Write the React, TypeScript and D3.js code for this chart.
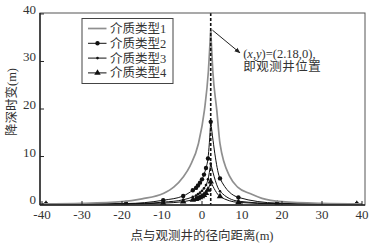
import React, { useEffect, useRef } from "react"
import * as d3 from "d3"

// axis ticks
const xTicks = [-40, -30, -20, -10, 0, 10, 20, 30, 40]
const yTicks = [0, 10, 20, 30, 40]
const wellX = 2.18

// 介质类型1 (gray, no markers)
const type1X = [-40, -30, -20, -15, -9.7, -7, -4.7, -3, -0.9, 0.6, 1.6, 2.18, 2.7, 3.7, 4.5, 7, 9, 12, 15, 20, 30, 40]
const type1Y = [0.05, 0.15, 0.5, 1.1, 2.2, 3.6, 5.7, 8, 12.7, 19.7, 28, 36.5, 28, 19.7, 12.7, 5.7, 3.5, 2.2, 1.2, 0.5, 0.15, 0.05]

// 介质类型2-4 (black, with markers)
const sampleX = [-39, -19, -9.7, -4.7, -2.3, -1.5, -1, -0.5, 0, 0.5, 1, 1.5, 2.18, 4.5, 9.1, 18.8, 38.7]
const type2Y = [0, 0.1, 0.8, 1.7, 2.9, 3.4, 3.9, 4.5, 5.2, 6.2, 7.6, 9.6, 17.3, 5.4, 1.4, 0.2, 0]
const type3Y = [0, 0.05, 0.4, 0.9, 1.5, 1.8, 2.1, 2.4, 2.8, 3.3, 4.0, 5.2, 8.5, 2.7, 0.6, 0.1, 0]
const type4Y = [0, 0.03, 0.2, 0.5, 0.9, 1.05, 1.2, 1.4, 1.6, 1.9, 2.3, 3.0, 4.7, 1.6, 0.35, 0.05, 0]

const legendLabels = ["介质类型1", "介质类型2", "介质类型3", "介质类型4"]

const serif = "'Liberation Serif', 'DejaVu Serif', 'Noto Sans CJK SC', serif"

export default function App() {
  const ref = useRef<SVGSVGElement>(null)

  useEffect(() => {
    const svg = d3.select(ref.current)
    svg.selectAll("*").remove()

    const left = 40, right = 365, top = 13, bottom = 205
    const x = d3.scaleLinear().domain([-40.5, 40.75]).range([left, right])
    const y = d3.scaleLinear().domain([-0.2, 40.2]).range([bottom, top])

    svg.append("defs").append("clipPath").attr("id", "plot")
      .append("rect").attr("x", left).attr("y", top)
      .attr("width", right - left).attr("height", bottom - top)
    svg.select("defs").append("marker")
      .attr("id", "arrow").attr("viewBox", "0 0 10 10")
      .attr("refX", 9).attr("refY", 5)
      .attr("markerWidth", 6).attr("markerHeight", 6)
      .attr("orient", "auto")
      .append("path").attr("d", "M0,1 L10,5 L0,9 Z").attr("fill", "#222")

    const series = [
      { xs: type1X, ys: type1Y, color: "#8f8f8f", width: 1.7, marker: "none" },
      { xs: sampleX, ys: type2Y, color: "#111", width: 1, marker: "circle" },
      { xs: sampleX, ys: type3Y, color: "#111", width: 1, marker: "dot" },
      { xs: sampleX, ys: type4Y, color: "#111", width: 1, marker: "triangle" }
    ]

    const line = d3.line<[number, number]>()
      .x(d => x(d[0]))
      .y(d => y(d[1]))
      .curve(d3.curveMonotoneX)

    const plot = svg.append("g").attr("clip-path", "url(#plot)")

    const drawMarker = (g: any, kind: string, cx: number, cy: number) => {
      if (kind === "circle") {
        g.append("circle").attr("cx", cx).attr("cy", cy).attr("r", 2.2).attr("fill", "#111")
      } else if (kind === "dot") {
        g.append("circle").attr("cx", cx).attr("cy", cy).attr("r", 1.3).attr("fill", "#111")
      } else if (kind === "triangle") {
        g.append("path")
          .attr("d", d3.symbol().type(d3.symbolTriangle).size(18)())
          .attr("transform", `translate(${cx},${cy})`)
          .attr("fill", "#111")
      }
    }

    // draw from last to first so the gray line stays visible
    series.slice().reverse().forEach(s => {
      const pts: [number, number][] = s.xs.map((v, i) => [v, s.ys[i]])
      const leftBranch = pts.filter(p => p[0] <= wellX)
      const rightBranch = pts.filter(p => p[0] >= wellX)
      ;[leftBranch, rightBranch].forEach(b => {
        plot.append("path")
          .attr("d", line(b))
          .attr("fill", "none")
          .attr("stroke", s.color)
          .attr("stroke-width", s.width)
      })
      pts.forEach(p => drawMarker(plot, s.marker, x(p[0]), y(p[1])))
    })

    // observation well
    svg.append("line")
      .attr("x1", x(wellX)).attr("x2", x(wellX))
      .attr("y1", top).attr("y2", bottom)
      .attr("stroke", "#111").attr("stroke-width", 1.6)
      .attr("stroke-dasharray", "3,2")

    // frame
    svg.append("rect")
      .attr("x", left).attr("y", top)
      .attr("width", right - left).attr("height", bottom - top)
      .attr("fill", "none").attr("stroke", "#555").attr("stroke-width", 1)
    svg.append("line").attr("x1", left).attr("x2", left).attr("y1", top).attr("y2", bottom)
      .attr("stroke", "#222").attr("stroke-width", 1.4)
    svg.append("line").attr("x1", left).attr("x2", right).attr("y1", bottom).attr("y2", bottom)
      .attr("stroke", "#222").attr("stroke-width", 1.4)

    // ticks
    xTicks.forEach(t => {
      svg.append("line").attr("x1", x(t)).attr("x2", x(t))
        .attr("y1", bottom).attr("y2", bottom - 4)
        .attr("stroke", "#222").attr("stroke-width", 1)
      svg.append("text").attr("x", x(t)).attr("y", 219)
        .attr("text-anchor", "middle")
        .attr("font-family", serif).attr("font-size", 13).attr("fill", "#333")
        .text(String(t))
    })
    yTicks.forEach(t => {
      svg.append("line").attr("x1", left).attr("x2", left + 4)
        .attr("y1", y(t)).attr("y2", y(t))
        .attr("stroke", "#222").attr("stroke-width", 1)
      svg.append("text").attr("x", 36).attr("y", y(t) - 3)
        .attr("text-anchor", "end").attr("dominant-baseline", "middle")
        .attr("font-family", serif).attr("font-size", 13).attr("fill", "#333")
        .text(String(t))
    })

    // axis titles
    svg.append("text")
      .attr("x", 202).attr("y", 240)
      .attr("text-anchor", "middle")
      .attr("font-family", serif).attr("font-size", 12.5).attr("fill", "#333")
      .text("点与观测井的径向距离(m)")
    svg.append("text")
      .attr("transform", "translate(16,102) rotate(-90)")
      .attr("text-anchor", "middle")
      .attr("font-family", serif).attr("font-size", 12.5).attr("fill", "#333")
      .text("降深时变(m)")

    // legend
    const lg = svg.append("g")
    lg.append("rect").attr("x", 82).attr("y", 18.5).attr("width", 91).attr("height", 65)
      .attr("fill", "#fff").attr("stroke", "#444").attr("stroke-width", 1)
    series.forEach((s, i) => {
      const ly = 28.5 + i * 14.8
      lg.append("line").attr("x1", 88).attr("x2", 106.5).attr("y1", ly).attr("y2", ly)
        .attr("stroke", s.color).attr("stroke-width", s.width)
      drawMarker(lg, s.marker, 97.5, ly)
      lg.append("text").attr("x", 110).attr("y", ly + 4.5)
        .attr("font-family", serif).attr("font-size", 12.5).attr("fill", "#333")
        .text(legendLabels[i])
    })

    // annotation
    svg.append("line")
      .attr("x1", x(2.6)).attr("y1", y(36.6))
      .attr("x2", x(9.5)).attr("y2", y(31.8))
      .attr("stroke", "#222").attr("stroke-width", 1)
      .attr("marker-end", "url(#arrow)")
    const ann = svg.append("text").attr("x", x(10.3)).attr("y", 58)
      .attr("font-family", serif).attr("font-size", 12.5).attr("fill", "#333")
    ann.append("tspan").text("(")
    ann.append("tspan").attr("font-style", "italic").text("x")
    ann.append("tspan").text(",")
    ann.append("tspan").attr("font-style", "italic").text("y")
    ann.append("tspan").text(")=(2.18,0),")
    svg.append("text").attr("x", x(10.3)).attr("y", 71)
      .attr("font-family", serif).attr("font-size", 12.5).attr("fill", "#333")
      .attr("letter-spacing", 0.5)
      .text("即观测井位置")
  }, [])

  return (
    <svg ref={ref} width={384} height={249}
      style={{ position: "absolute", left: 0, top: 0, background: "#fff" }} />
  )
}
